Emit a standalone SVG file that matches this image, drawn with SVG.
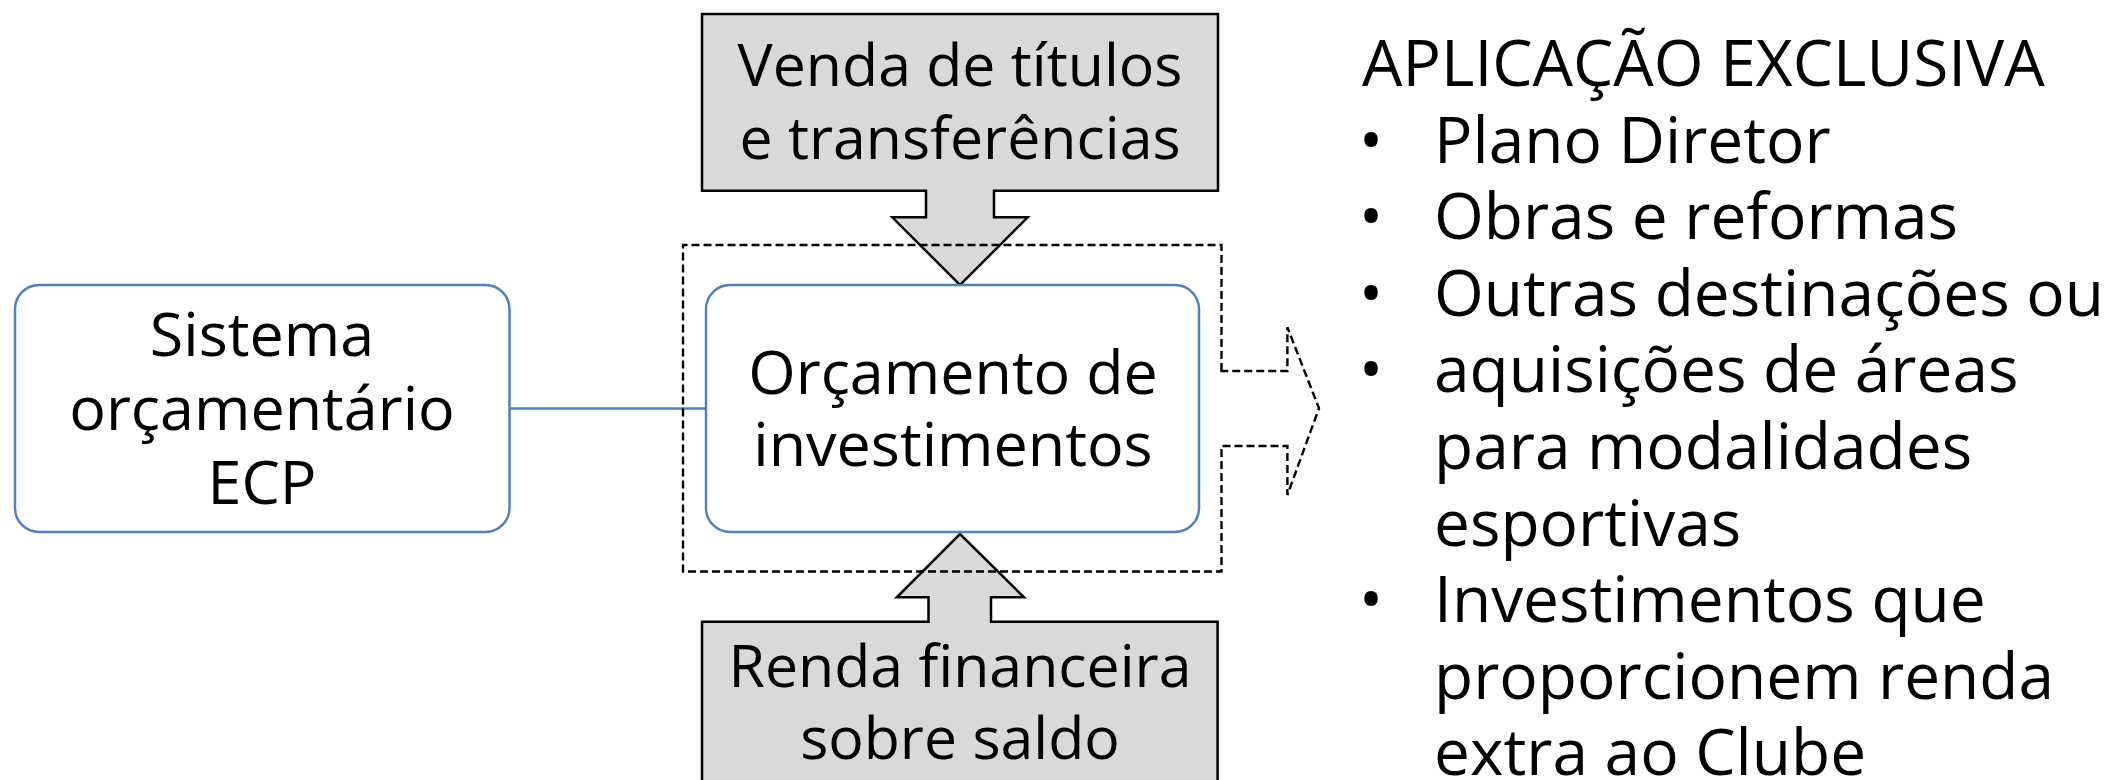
<svg xmlns="http://www.w3.org/2000/svg" width="2108" height="780" viewBox="0 0 2108 780">
<style>
.t{font-family:"Open Sans","Noto Sans","Liberation Sans",sans-serif;fill:#000}
.b{font-size:61px;text-anchor:middle}
.s{font-size:59px}
.l{font-size:64px}
.blue{fill:#fff;stroke:#4f81bd;stroke-width:2.5}
.gray{fill:#d9d9d9;stroke:#000;stroke-width:2.5;stroke-linejoin:miter}
.dash{fill:none;stroke:#000;stroke-width:2.4;stroke-dasharray:8 4}
</style>
<rect width="2108" height="780" fill="#fff"/>
<g id="connectors">
<line x1="509.5" y1="408.5" x2="706" y2="408.5" stroke="#4f81bd" stroke-width="2.5"/>
</g>
<g id="top-source">
<polygon class="gray" points="702,14 1218,14 1218,190.7 994,190.7 994,217.3 1027.7,217.3 960,285 892.3,217.3 926,217.3 926,190.7 702,190.7"/>
<text class="t b s" x="960" y="86">Venda de títulos</text>
<text class="t b s" x="960" y="159">e transferências</text>
</g>
<g id="bottom-source">
<polygon class="gray" points="702,790 702,621.7 928.5,621.7 928.5,597.3 896.8,597.3 960,534 1024,597.3 991,597.3 991,621.7 1217.6,621.7 1217.6,790"/>
<text class="t b s" x="960" y="687">Renda financeira</text>
<text class="t b s" x="960" y="759">sobre saldo</text>
</g>
<g id="sistema">
<rect class="blue" x="15" y="285" width="494.5" height="247" rx="24"/>
<text class="t b" x="262" y="355.5">Sistema</text>
<text class="t b" x="262" y="429.5">orçamentário</text>
<text class="t b" x="262" y="503.5">ECP</text>
</g>
<g id="orcamento">
<rect class="blue" x="706" y="285" width="493" height="247" rx="24"/>
<text class="t b" x="953" y="394">Orçamento de</text>
<text class="t b" x="953" y="466">investimentos</text>
</g>
<g id="group-boundary">
<path class="dash" d="M1221.5,371 L1221.5,245 L683,245 L683,571.5 L1221.5,571.5 L1221.5,446 L1287.4,446 L1287.4,495 L1319,408.3 L1287.4,327.3 L1287.4,371 Z"/>
</g>
<g id="aplicacao">
<text class="t l" x="1362" y="86">APLICAÇÃO EXCLUSIVA</text>
<g class="t l" text-anchor="middle">
<text x="1371" y="162.6">•</text>
<text x="1371" y="239.2">•</text>
<text x="1371" y="315.8">•</text>
<text x="1371" y="392.4">•</text>
<text x="1371" y="622.2">•</text>
</g>
<text class="t l" x="1434" y="162.6">Plano Diretor</text>
<text class="t l" x="1434" y="239.2">Obras e reformas</text>
<text class="t l" x="1434" y="315.8">Outras destinações ou</text>
<text class="t l" x="1434" y="392.4">aquisições de áreas</text>
<text class="t l" x="1434" y="469">para modalidades</text>
<text class="t l" x="1434" y="545.6">esportivas</text>
<text class="t l" x="1434" y="622.2">Investimentos que</text>
<text class="t l" x="1434" y="698.8">proporcionem renda</text>
<text class="t l" x="1434" y="775.4">extra ao Clube</text>
</g>
</svg>
